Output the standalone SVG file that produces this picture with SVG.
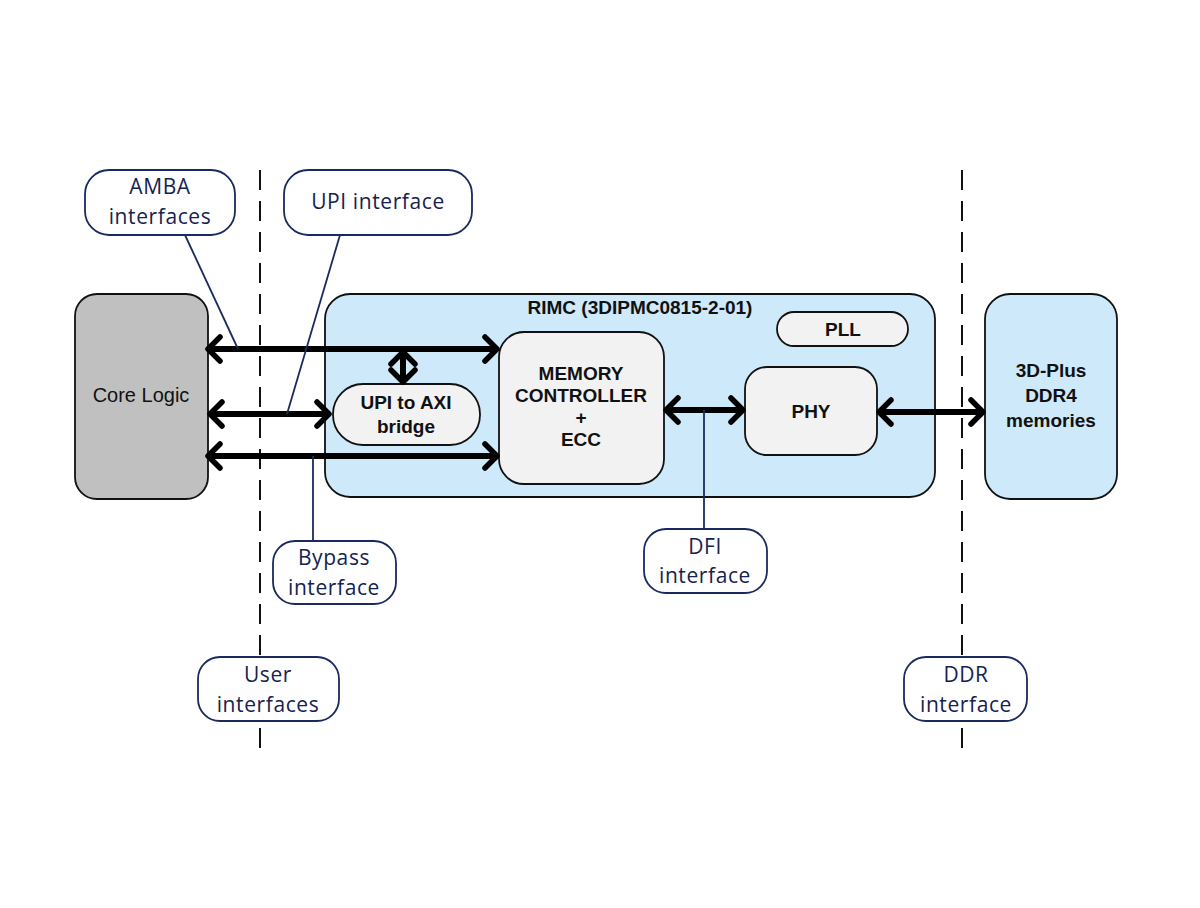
<svg xmlns="http://www.w3.org/2000/svg" width="1200" height="908" viewBox="0 0 1200 908">
<style>
.callout{fill:#fff;stroke:#1b2a5e;stroke-width:1.8}
.ctext{font-family:"Open Sans","Noto Sans",sans-serif;font-size:21px;fill:#15224f;text-anchor:middle;letter-spacing:0.6px}
.leader{stroke:#1b2a5e;stroke-width:1.8;fill:none}
.dash{stroke:#111;stroke-width:2;stroke-dasharray:20,11;fill:none}
.blk{stroke:#111;stroke-width:1.8}
.btext{font-family:"Liberation Sans",Arial,sans-serif;font-weight:bold;font-size:19px;fill:#111;text-anchor:middle}
.conn{stroke:#000;stroke-width:6;fill:none;marker-start:url(#chev);marker-end:url(#chev)}
</style>
<defs>
<marker id="chev" viewBox="0 0 18 30" refX="16" refY="15" markerWidth="18" markerHeight="30" markerUnits="userSpaceOnUse" orient="auto-start-reverse">
<path d="M3,3 L15,15 L3,27" fill="none" stroke="#000" stroke-width="5.5" stroke-linecap="round" stroke-linejoin="round"/>
</marker>
</defs>
<rect width="1200" height="908" fill="#fff"/>
<g id="dashes">
<line class="dash" x1="260" y1="170" x2="260" y2="755"/>
<line class="dash" x1="962" y1="170" x2="962" y2="755"/>
</g>
<g id="core-logic">
<rect class="blk" x="75" y="294" width="133" height="205" rx="22" fill="#c0c0c0"/>
<text x="141" y="402" font-family="Liberation Sans,Arial,sans-serif" font-size="20" text-anchor="middle" fill="#111">Core Logic</text>
</g>
<g id="rimc">
<rect class="blk" x="325" y="294" width="610" height="203" rx="25" fill="#cde9fa"/>
<text class="btext" x="640" y="314">RIMC (3DIPMC0815-2-01)</text>
</g>
<g id="ddr-mem">
<rect class="blk" x="985" y="294" width="132" height="205" rx="25" fill="#cde9fa"/>
<text class="btext" x="1051" y="377" font-size="20">3D-Plus</text>
<text class="btext" x="1051" y="402" font-size="20">DDR4</text>
<text class="btext" x="1051" y="427" font-size="20">memories</text>
</g>
<g id="pll">
<rect class="blk" x="777" y="312" width="131" height="34" rx="17" fill="#f2f2f2"/>
<text class="btext" x="843" y="336" font-size="20">PLL</text>
</g>
<g id="memctrl">
<rect class="blk" x="499" y="332" width="165" height="152" rx="25" fill="#f2f2f2"/>
<text class="btext" x="581" y="380" font-size="18">MEMORY</text>
<text class="btext" x="581" y="402" font-size="18">CONTROLLER</text>
<text class="btext" x="581" y="424" font-size="18">+</text>
<text class="btext" x="581" y="446" font-size="18">ECC</text>
</g>
<g id="bridge">
<rect class="blk" x="333" y="384" width="147" height="61" rx="30" fill="#f2f2f2"/>
<text class="btext" x="406" y="409" font-size="20">UPI to AXI</text>
<text class="btext" x="406" y="433" font-size="20">bridge</text>
</g>
<g id="phy">
<rect class="blk" x="745" y="367" width="132" height="88" rx="22" fill="#f2f2f2"/>
<text class="btext" x="811" y="418" font-size="20">PHY</text>
</g>
<g id="connectors">
<line class="conn" x1="207" y1="349" x2="498" y2="349"/>
<line class="conn" x1="209" y1="414" x2="330" y2="414"/>
<line class="conn" x1="207" y1="456" x2="498" y2="456"/>
<line class="conn" x1="403" y1="351" x2="403" y2="383"/>
<line class="conn" x1="665" y1="410" x2="744" y2="410"/>
<line class="conn" x1="878" y1="412" x2="984" y2="412"/>
</g>
<g id="leaders">
<line class="leader" x1="185" y1="235" x2="238" y2="349"/>
<line class="leader" x1="340" y1="235" x2="287" y2="414"/>
<line class="leader" x1="313" y1="456" x2="313" y2="541"/>
<line class="leader" x1="704" y1="410" x2="704" y2="529"/>
</g>
<g id="amba-callout">
<rect class="callout" x="85" y="170" width="150" height="65" rx="24"/>
<text class="ctext" x="160" y="194">AMBA</text>
<text class="ctext" x="160" y="224">interfaces</text>
</g>
<g id="upi-callout">
<rect class="callout" x="284" y="170" width="188" height="65" rx="24"/>
<text class="ctext" x="378" y="209">UPI interface</text>
</g>
<g id="bypass-callout">
<rect class="callout" x="273" y="541" width="123" height="63" rx="22"/>
<text class="ctext" x="334" y="565">Bypass</text>
<text class="ctext" x="334" y="595">interface</text>
</g>
<g id="user-callout">
<rect class="callout" x="198" y="657" width="141" height="64" rx="22"/>
<text class="ctext" x="268" y="682">User</text>
<text class="ctext" x="268" y="712">interfaces</text>
</g>
<g id="dfi-callout">
<rect class="callout" x="644" y="529" width="123" height="64" rx="22"/>
<text class="ctext" x="705" y="554">DFI</text>
<text class="ctext" x="705" y="583">interface</text>
</g>
<g id="ddr-callout">
<rect class="callout" x="904" y="657" width="123" height="64" rx="22"/>
<text class="ctext" x="966" y="682">DDR</text>
<text class="ctext" x="966" y="712">interface</text>
</g>
</svg>
